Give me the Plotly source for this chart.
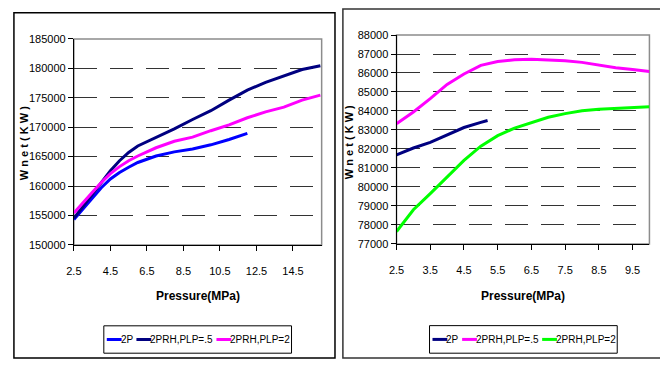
import plotly.graph_objects as go

# ---------------- data ----------------
# Left chart
left_names = ["2P", "2PRH,PLP=.5", "2PRH,PLP=2"]
left_colors = ["#0000FF", "#000080", "#FF00FF"]

p_2p_left = [2.5, 3, 3.5, 4, 4.5, 5, 5.5, 6, 7, 8, 9, 10, 11, 12]
w_2p_left = [154300, 156100, 157800, 159700, 161200, 162300, 163200, 164000,
             165100, 165800, 166300, 167000, 167900, 168950]

p_rh05_left = [2.5, 3, 3.5, 4, 4.5, 5, 5.5, 6, 7, 8, 9, 10, 11, 12, 13, 14, 15, 16]
w_rh05_left = [154500, 156500, 158500, 160400, 162600, 164300, 165700, 166800,
               168200, 169700, 171300, 172800, 174600, 176300, 177600, 178700,
               179800, 180450]

p_rh2_left = [2.5, 3, 3.5, 4, 4.5, 5, 5.5, 6, 7, 8, 9, 10, 11, 12, 13, 14, 15, 16]
w_rh2_left = [155400, 157200, 158900, 160600, 162100, 163300, 164300, 165100,
              166500, 167600, 168300, 169400, 170400, 171600, 172600, 173400,
              174600, 175450]

left_x_ticks = [2.5, 4.5, 6.5, 8.5, 10.5, 12.5, 14.5]
left_y_ticks = [150000, 155000, 160000, 165000, 170000, 175000, 180000, 185000]

# Right chart
right_names = ["2P", "2PRH,PLP=.5", "2PRH,PLP=2"]
right_colors = ["#000080", "#FF00FF", "#00FF00"]

p_2p_right = [2.5, 3, 3.5, 4, 4.5, 5, 5.2]
w_2p_right = [81690, 82050, 82350, 82760, 83130, 83400, 83500]

p_rh05_right = [2.5, 3, 3.5, 4, 4.5, 5, 5.5, 6, 6.5, 7, 7.5, 8, 8.5, 9, 9.5, 10]
w_rh05_right = [83330, 83950, 84650, 85400, 85950, 86400, 86600, 86700, 86720,
                86700, 86650, 86560, 86420, 86280, 86180, 86080]

p_rh2_right = [2.5, 3, 3.5, 4, 4.5, 5, 5.5, 6, 6.5, 7, 7.5, 8, 8.5, 9, 9.5, 10]
w_rh2_right = [77650, 78800, 79650, 80500, 81400, 82150, 82700, 83100, 83400,
               83670, 83860, 84010, 84090, 84140, 84180, 84220]

right_x_ticks = [2.5, 3.5, 4.5, 5.5, 6.5, 7.5, 8.5, 9.5]
right_y_ticks = list(range(77000, 88001, 1000))

x_title = "Pressure(MPa)"
y_title = "W n e t ( K W )"

# ---------------- layout helpers ----------------
W, H = 660, 365
FONT = "Liberation Sans Narrow, Arial Narrow, Liberation Sans, Arial, sans-serif"

def px(x):
    return x / W

def py(y):
    return 1 - y / H

L_dom_x = [px(66.7), px(317.5)]
L_dom_y = [py(247), py(34)]
R_dom_x = [px(393.3), px(649.3)]
R_dom_y = [py(246), py(30)]

fig = go.Figure()

left_series = [(p_2p_left, w_2p_left), (p_rh05_left, w_rh05_left), (p_rh2_left, w_rh2_left)]
right_series = [(p_2p_right, w_2p_right), (p_rh05_right, w_rh05_right), (p_rh2_right, w_rh2_right)]

for (xs, ys), name, col in zip(left_series, left_names, left_colors):
    fig.add_trace(go.Scatter(x=xs, y=ys, mode="lines", name=name,
                             line=dict(color=col, width=3),
                             xaxis="x", yaxis="y", showlegend=False))
for (xs, ys), name, col in zip(right_series, right_names, right_colors):
    fig.add_trace(go.Scatter(x=xs, y=ys, mode="lines", name=name,
                             line=dict(color=col, width=3),
                             xaxis="x2", yaxis="y2", showlegend=False))

axis_common = dict(showline=True, linecolor="black", linewidth=1, ticks="outside",
                   ticklen=5, tickcolor="black", tickfont=dict(family=FONT, size=11, color="black"),
                   zeroline=False)

fig.update_layout(
    width=W, height=H, margin=dict(l=0, r=0, t=0, b=0),
    paper_bgcolor="white", plot_bgcolor="white",
    font=dict(family=FONT, color="black"),
    xaxis=dict(domain=L_dom_x, anchor="y", range=[2.5, 16.07], tickvals=left_x_ticks,
               ticktext=[str(v) for v in left_x_ticks], showgrid=False,
               ticklabelstandoff=11, **axis_common),
    yaxis=dict(domain=L_dom_y, anchor="x", range=[150000, 185000], tickvals=left_y_ticks,
               tickformat="d", showgrid=True, gridcolor="#333333", gridwidth=1,
               griddash="23px,13px", **axis_common),
    xaxis2=dict(domain=R_dom_x, anchor="y2", range=[2.5, 10.0], tickvals=right_x_ticks,
                ticktext=[str(v) for v in right_x_ticks], showgrid=False,
                ticklabelstandoff=11, **axis_common),
    yaxis2=dict(domain=R_dom_y, anchor="x2", range=[77000, 88000], tickvals=right_y_ticks,
                tickformat="d", showgrid=True, gridcolor="#333333", gridwidth=1,
                griddash="23px,13px", **axis_common),
)

shapes = []
# plot-area gray border (top/right)
for dx, dy in [(L_dom_x, L_dom_y), (R_dom_x, R_dom_y)]:
    shapes.append(dict(type="rect", xref="paper", yref="paper", x0=dx[0], x1=dx[1],
                       y0=dy[0], y1=dy[1], line=dict(color="#8c8c8c", width=1.5),
                       layer="below"))
# outer panel borders
shapes.append(dict(type="rect", xref="paper", yref="paper", x0=px(6), x1=px(331),
                   y0=py(364), y1=py(7), line=dict(color="black", width=1.5)))
shapes.append(dict(type="rect", xref="paper", yref="paper", x0=px(339), x1=px(700),
                   y0=py(364), y1=py(3), line=dict(color="#333333", width=1.5)))

annotations = []
# axis titles
for cx in [192.5, 521.7]:
    annotations.append(dict(x=px(cx), y=py(300), xref="paper", yref="paper", text="<b>" + x_title + "</b>",
                            showarrow=False, font=dict(family=FONT, size=12, color="black"),
                            xanchor="center", yanchor="middle"))
for cx, cy in [(17, 142), (346, 141)]:
    annotations.append(dict(x=px(cx), y=py(cy), xref="paper", yref="paper", text="<b>" + y_title + "</b>",
                            showarrow=False, textangle=-90, font=dict(family=FONT, size=11, color="black"),
                            xanchor="center", yanchor="middle"))

# manual legends
legend_boxes = [(97, 287, 330.7, 359), (426.7, 616.7, 330.5, 359)]
line_offsets = [(3, 18), (33, 48), (114, 129)]
for (bx0, bx1, by0, by1), names, cols in zip(legend_boxes, [left_names, right_names],
                                               [left_colors, right_colors]):
    shapes.append(dict(type="rect", xref="paper", yref="paper", x0=px(bx0), x1=px(bx1),
                       y0=py(by1), y1=py(by0), line=dict(color="black", width=1)))
    ym = (by0 + by1) / 2
    for (o0, o1), nm, c in zip(line_offsets, names, cols):
        shapes.append(dict(type="line", xref="paper", yref="paper", x0=px(bx0 + o0),
                           x1=px(bx0 + o1), y0=py(ym), y1=py(ym), line=dict(color=c, width=3)))
        annotations.append(dict(x=px(bx0 + o1), y=py(ym), xref="paper", yref="paper", text=nm,
                                showarrow=False, xanchor="left", yanchor="middle", xshift=-3,
                                font=dict(family=FONT, size=10, color="black")))

fig.update_layout(shapes=shapes, annotations=annotations)

fig.write_html("out.html")
